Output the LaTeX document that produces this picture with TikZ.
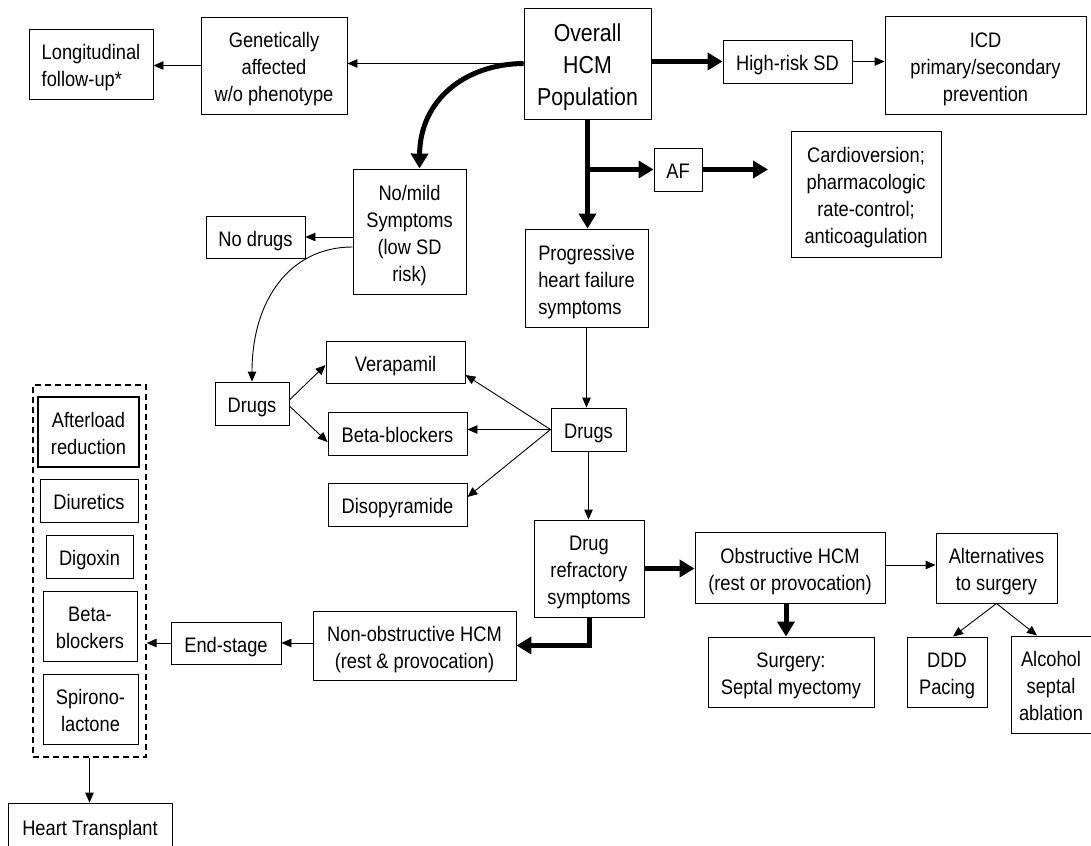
\documentclass[tikz,border=0pt]{standalone}
\usepackage{fontspec}
\setmainfont{Liberation Sans}[FakeStretch=0.87]
\usetikzlibrary{arrows.meta}
\newcommand\tx[2][c]{\raisebox{-4pt}[\height][\depth]{\begin{tabular}{@{}#1@{}}#2\end{tabular}}}
\begin{document}
\begin{tikzpicture}[x=1pt,y=-1pt,
  bx/.style={draw, line width=0.9pt, inner sep=0pt,
    font=\fontsize{21}{27}\selectfont},
  big/.style={font=\fontsize{24.5}{32}\selectfont},
  thinarr/.style={line width=0.9pt, -{Triangle[length=10pt,width=8.5pt]}},
  thickarr/.style={line width=5pt, -{Triangle[length=15pt,width=17pt]}},
  dashbox/.style={draw, line width=1.2pt, dash pattern=on 6pt off 4pt, inner sep=0pt},
]
\useasboundingbox (0,0) rectangle (1091,845);
\fill[white] (0,0) rectangle (1091,845);

% top row
\node[bx, minimum width=124pt, minimum height=70pt] (lon) at (91,64) {\tx[l]{Longitudinal\\follow-up*}};
\node[bx, minimum width=146pt, minimum height=97pt] (gen) at (274,65.5) {\tx{Genetically\\affected\\w/o phenotype}};
\node[bx, big, minimum width=127pt, minimum height=111pt] (ovr) at (587.5,63.5) {\tx{Overall\\HCM\\Population}};
\node[bx, minimum width=129pt, minimum height=43pt] (hrs) at (787.5,61.5) {\tx{High-risk SD}};
\node[bx, minimum width=201pt, minimum height=98pt] (icd) at (985.5,65) {\tx{ICD\\primary/secondary\\prevention}};

% AF
\node[bx, minimum width=48pt, minimum height=43pt] (af) at (678,169.5) {\tx{AF}};
\node[bx, minimum width=150pt, minimum height=126pt] (card) at (866,194) {\tx{Cardioversion;\\pharmacologic\\rate-control;\\anticoagulation}};

% mild branch
\node[bx, minimum width=113pt, minimum height=125pt] (nom) at (409.5,231.5) {\tx{No/mild\\Symptoms\\(low SD\\risk)}};
\node[bx, minimum width=99pt, minimum height=42pt] (nod) at (255.5,237) {\tx{No drugs}};
\node[bx, minimum width=123pt, minimum height=98pt] (prog) at (586.5,278) {\tx[l]{Progressive\\heart failure\\symptoms}};

% drugs
\node[bx, minimum width=139pt, minimum height=42pt] (ver) at (395.5,362) {\tx{Verapamil}};
\node[bx, minimum width=74pt, minimum height=43pt] (drl) at (252,403.5) {\tx{Drugs}};
\node[bx, minimum width=139pt, minimum height=43pt] (bb) at (397.5,433.5) {\tx{Beta-blockers}};
\node[bx, minimum width=139pt, minimum height=43pt] (dis) at (397.5,504.5) {\tx{Disopyramide}};
\node[bx, minimum width=75pt, minimum height=43pt] (drm) at (588.5,429.5) {\tx{Drugs}};

% refractory
\node[bx, minimum width=110pt, minimum height=97pt] (dref) at (589,568.5) {\tx{Drug\\refractory\\symptoms}};
\node[bx, minimum width=190pt, minimum height=71pt] (obs) at (790,567.5) {\tx{Obstructive HCM\\(rest or provocation)}};
\node[bx, minimum width=121pt, minimum height=70pt] (alt) at (996.5,568) {\tx{Alternatives\\to surgery}};
\node[bx, minimum width=166pt, minimum height=70pt] (surg) at (791,672) {\tx{Surgery:\\Septal myectomy}};
\node[bx, minimum width=80pt, minimum height=70pt] (ddd) at (947,672) {\tx{DDD\\Pacing}};
\node[bx, minimum width=80pt, minimum height=97pt] (alc) at (1051,684.5) {\tx{Alcohol\\septal\\ablation}};
\node[bx, minimum width=203pt, minimum height=69pt] (nob) at (414.5,645.5) {\tx{Non-obstructive HCM\\(rest \& provocation)}};
\node[bx, minimum width=110pt, minimum height=42pt] (end) at (226,643) {\tx{End-stage}};

% end-stage therapies
\node[dashbox, minimum width=113pt, minimum height=372pt] (dash) at (89.5,571) {};
\node[bx, line width=1.4pt, minimum width=101pt, minimum height=70pt] (aft) at (88.5,432) {\tx{Afterload\\reduction}};
\node[bx, minimum width=98pt, minimum height=43pt] (diu) at (89,500.5) {\tx{Diuretics}};
\node[bx, minimum width=87pt, minimum height=43pt] (dig) at (89.5,556.5) {\tx{Digoxin}};
\node[bx, minimum width=94pt, minimum height=70pt] (bb2) at (90,626) {\tx{Beta-\\blockers}};
\node[bx, minimum width=95pt, minimum height=70pt] (spi) at (90.5,709) {\tx{Spirono-\\lactone}};
\node[bx, minimum width=164pt, minimum height=46pt] (ht) at (90,826) {\tx{Heart Transplant}};

\coordinate (afend) at (768,169.5);

% connectors
\draw[thinarr] (ovr.west) -- (ovr.west -| gen.east);
\draw[thinarr] (gen.west) -- (gen.west -| lon.east);
\draw[thickarr] (hrs.west -| ovr.east) -- (hrs.west);
\draw[thinarr] (hrs.east) -- (hrs.east -| icd.west);
\draw[thickarr] (ovr.west) .. controls (465,64) and (420,100) .. ([xshift=10pt]nom.north);
\draw[thickarr] (ovr.south) -- (ovr.south |- prog.north);
\draw[thickarr] (ovr.south |- af.west) -- (af.west);
\draw[thickarr] (af.east) -- (afend);
\draw[thinarr] (nod.east -| nom.west) -- (nod.east);
\draw[thinarr] ([yshift=-15.5pt]nom.west) .. controls (290,247) and (252,300) .. (drl.north);
\draw[thinarr] ([yshift=3.5pt]drl.east) -- ([yshift=-3pt]ver.west);
\draw[thinarr] ([yshift=-2.5pt]drl.east) -- ([yshift=-8.5pt]bb.west);
\draw[thinarr] (prog.south) -- (prog.south |- drm.north);
\draw[thinarr] (drm.west) -- ([yshift=-13pt]ver.east);
\draw[thinarr] (drm.west) -- (drm.west -| bb.east);
\draw[thinarr] (drm.west) -- ([yshift=7.5pt]dis.east);
\draw[thinarr] (drm.south) -- (drm.south |- dref.north);
\draw[thickarr] (dref.east) -- (dref.east -| obs.west);
\draw[thinarr] ([yshift=2.5pt]obs.east) -- ([yshift=2.5pt]obs.east -| alt.west);
\draw[thickarr] ([xshift=-4pt]obs.south) -- ([xshift=-4pt]obs.south |- surg.north);
\draw[thinarr] (alt.south) -- ([xshift=6pt]ddd.north);
\draw[thinarr] (alt.south) -- ([xshift=-14pt]alc.north);
\draw[thickarr] (dref.south) |- (nob.east);
\draw[thinarr] (end.east -| nob.west) -- (end.east);
\draw[thinarr] (end.west) -- (end.west -| dash.east);
\draw[thinarr] (dash.south) -- (dash.south |- ht.north);
\end{tikzpicture}
\end{document}
